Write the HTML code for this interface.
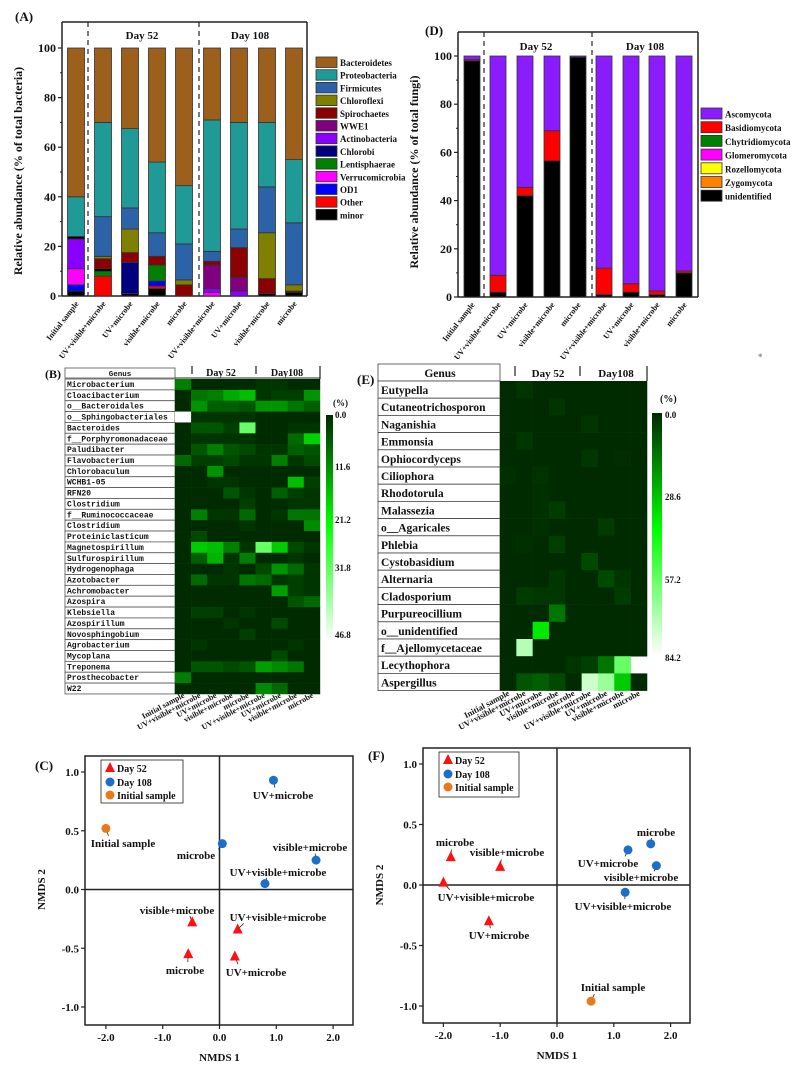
<!DOCTYPE html>
<html><head><meta charset="utf-8">
<style>
html,body{margin:0;padding:0;background:#fff;}
svg{display:block;font-family:"Liberation Serif",serif;font-weight:bold;}
</style></head>
<body>
<svg id="s" width="799" height="1067" viewBox="0 0 799 1067" xmlns="http://www.w3.org/2000/svg">
<defs>
<linearGradient id="cb" x1="0" y1="0" x2="0" y2="1">
<stop offset="0" stop-color="#002a00"/><stop offset="0.48" stop-color="#00ff00"/><stop offset="1" stop-color="#ffffff"/>
</linearGradient>
</defs>
</svg>
<script>
const S=document.getElementById('s');let h='';
function T(x,y,t,o){o=o||{};h+=`<text x="${x}" y="${y}" font-size="${o.fs||10}" text-anchor="${o.a||'start'}" ${o.ff?`font-family="${o.ff}"`:''} ${o.tr?`transform="${o.tr}"`:''} fill="${o.c||'#111'}">${t}</text>`;}
function R(x,y,w,hh,f,st){h+=`<rect x="${x}" y="${y}" width="${w}" height="${hh}" fill="${f}" ${st?`stroke="${st}" stroke-width="0.8"`:''}/>`;}
function L(x1,y1,x2,y2,w,d){h+=`<line x1="${x1}" y1="${y1}" x2="${x2}" y2="${y2}" stroke="#222" stroke-width="${w||1}" ${d?`stroke-dasharray="${d}"`:''}/>`;}
const labs=["Initial sample","UV+visible+microbe","UV+microbe","visible+microbe","microbe","UV+visible+microbe","UV+microbe","visible+microbe","microbe"];
// ---------- Panel A ----------
const CA={Bac:"#9c5f1c",Pro:"#1f9a96",Fir:"#2c62a8",Chl:"#808000",Spi:"#8b0000",WWE:"#800080",Act:"#8a00ff",Chb:"#00007f",Len:"#008000",Ver:"#ff00ff",OD1:"#0000ff",Oth:"#ff0000",min:"#000"};
const A=[
[["min",2],["OD1",2.5],["Ver",6.5],["Act",12],["min",1],["Pro",16],["Bac",60]],
[["Oth",8],["Len",2],["min",1],["Spi",4],["Chl",1],["Fir",16],["Pro",38],["Bac",30]],
[["min",1],["Chb",12.5],["Spi",4],["Chl",9.5],["Fir",8.5],["Pro",32],["Bac",32.5]],
[["min",3],["Oth",1],["OD1",2],["Len",6.5],["Spi",3.5],["Fir",9.5],["Pro",28.5],["Bac",46]],
[["Spi",4.5],["Chl",2],["Fir",14.5],["Pro",23.5],["Bac",55.5]],
[["Ver",1.5],["Act",1.5],["WWE",9.5],["Spi",1.5],["Fir",4],["Pro",53],["Bac",29]],
[["Act",2],["WWE",5.5],["Spi",12],["Fir",7.5],["Pro",43],["Bac",30]],
[["min",1],["Spi",6],["Chl",18.5],["Fir",18.5],["Pro",26],["Bac",30]],
[["min",1.5],["Spi",0.5],["Chl",2.5],["Fir",25],["Pro",25.5],["Bac",45]]];
function barPanel(x0,x1,top,y0,k,centers,bw,data,cols,dash,days,ylab,dayY){
 L(x0,top,x1,top,1.5);L(x1,top,x1,y0,1.5);L(x0,top,x0,y0,1.5);L(x0,y0,x1,y0,1.5);
 for(let v=0;v<=100;v+=20){const y=y0-v*k;L(x0-4,y,x0,y,1.2);T(x0-6,y+4,v,{a:'end',fs:12});}
 for(let v=10;v<100;v+=20){const y=y0-v*k;L(x0-2,y,x0,y,1);}
 dash.forEach(d=>L(d,top,d,y0,1.2,"5,4"));
 T(days[0],dayY,"Day 52",{a:'middle',fs:11});T(days[1],dayY,"Day 108",{a:'middle',fs:11});
 data.forEach((b,i)=>{let acc=0;const cx=centers[i];b.forEach(([c,v])=>{const yb=y0-acc*k,yt=y0-(acc+v)*k;R(cx-bw/2,yt,bw,yb-yt,cols[c],"#333");acc+=v;});
  T(cx+3,y0+8,labs[i],{a:'end',fs:8,tr:`rotate(-52 ${cx+3} ${y0+8})`});});
 T(0,0,ylab,{a:'middle',fs:12,tr:`translate(${x0-40},${y0-125}) rotate(-90)`});
}
barPanel(62,307,22,296,2.48,[76,103,130,157,184,212,239,267,294],17,A,CA,[88,199],[142,250],"Relative abundance  (% of total bacteria)",39);
T(15,21,"(A)",{fs:13});
const la=[["Bac","Bacteroidetes"],["Pro","Proteobacteria"],["Fir","Firmicutes"],["Chl","Chloroflexi"],["Spi","Spirochaetes"],["WWE","WWE1"],["Act","Actinobacteria"],["Chb","Chlorobi"],["Len","Lentisphaerae"],["Ver","Verrucomicrobia"],["OD1","OD1"],["Oth","Other"],["min","minor"]];
la.forEach(([c,t],i)=>{const y=57+i*12.7;R(316,y,21,10.5,CA[c],"#333");T(340,y+9,t,{fs:9});});
// ---------- Panel D ----------
const CD={Asc:"#8a1cff",Bas:"#ff0000",Chy:"#008000",Glo:"#ff00ff",Roz:"#ffff00",Zyg:"#ff8000",Uni:"#000"};
const D=[[["Uni",98],["Bas",0.5],["Asc",1.5]],[["Uni",2],["Bas",7],["Asc",91]],[["Uni",42],["Bas",3.5],["Asc",54.5]],[["Uni",56.5],["Bas",12.5],["Asc",31]],[["Uni",99.5],["Asc",0.5]],[["Uni",1],["Bas",11],["Asc",88]],[["Uni",2],["Bas",3.5],["Asc",94.5]],[["Uni",1],["Bas",1.5],["Asc",97.5]],[["Uni",10],["Bas",0.8],["Asc",89.2]]];
barPanel(458,698,32,297,2.41,[472,498,525,552,578,604,631,657,684],16,D,CD,[484,592],[536,645],"Relative abundance  (% of total fungi)",50);
T(425,35,"(D)",{fs:13});
[["Asc","Ascomycota"],["Bas","Basidiomycota"],["Chy","Chytridiomycota"],["Glo","Glomeromycota"],["Roz","Rozellomycota"],["Zyg","Zygomycota"],["Uni","unidentified"]].forEach(([c,t],i)=>{const y=108+i*13.7;R(701,y,21,11,CD[c],"#333");T(725,y+9.5,t,{fs:9});});
// ---------- heatmap color ----------
function hc(v){if(v<=1){const g=Math.round(42+v*213);return `rgb(0,${g},0)`;}const w=Math.round((v-1)*255);return `rgb(${w},255,${w})`;}
// ---------- Panel B ----------
const gB=["Microbacterium","Cloacibacterium","o__Bacteroidales","o__Sphingobacteriales","Bacteroides","f__Porphyromonadaceae","Paludibacter","Flavobacterium","Chlorobaculum","WCHB1-05","RFN20","Clostridium","f__Ruminococcaceae","Clostridium","Proteiniclasticum","Magnetospirillum","Sulfurospirillum","Hydrogenophaga","Azotobacter","Achromobacter","Azospira","Klebsiella","Azospirillum","Novosphingobium","Agrobacterium","Mycoplana","Treponema","Prosthecobacter","W22"];
const vB=[[.4,0,0,0,0,.05,.05,0,0],[0,.35,.4,.6,.7,.05,.1,.1,.5],[0,.5,.25,.25,.2,.5,.5,.35,.25],[2,.05,.05,.05,.05,0,0,0,0],[0,.2,.2,.1,1.4,0,0,.05,.05],[0,.05,.05,.05,.05,0,0,.3,.8],[0,.2,.4,.2,.15,.05,.05,.25,.2],[.3,.1,.1,.15,.05,.05,.4,.05,.15],[0,0,.5,0,0,0,0,0,0],[0,0,.05,.05,0,0,0,.7,.1],[0,0,0,.2,.05,0,.25,.1,.05],[0,0,0,0,.1,0,0,.05,.05],[0,.4,.05,.05,.3,0,.05,.35,.35],[0,0,0,0,.05,0,0,0,.45],[0,.15,0,0,0,0,0,0,0],[0,.75,.7,.4,.05,1.4,.75,.15,.05],[0,.25,.65,.05,.4,0,0,.05,0],[0,0,0,.05,0,.15,.5,.3,.05],[0,.3,.05,.05,.35,.3,.05,.1,.05],[0,0,0,0,0,0,.55,.1,.05],[0,0,0,0,0,0,0,.2,.3],[0,.1,.1,0,.05,0,0,0,0],[0,0,0,.05,0,0,.15,0,0],[0,0,0,0,.1,0,0,0,0],[0,.05,0,0,0,0,0,.05,0],[0,0,0,0,0,0,.15,0,0],[0,.2,.2,.15,.2,.55,.45,.35,0],[.4,0,0,0,0,0,0,0,0],[0,0,0,0,0,.45,.3,0,0]];
{const x0=175,cw=16.1,y0=379,rh=10.86;
 R(65,368,110,10,"#fff","#555");T(120,376,"Genus",{a:'middle',fs:7.5,ff:'Liberation Mono'});
 gB.forEach((g,i)=>{const y=y0+i*rh;R(65,y,110,rh,"#fff","#555");T(67,y+8,g,{fs:8,ff:'Liberation Mono'});
  vB[i].forEach((v,j)=>R(x0+j*cw,y,cw+0.3,rh+0.3,v>=2?'#fff':hc(v)));});
 L(192,366,192,374,1.2);L(256,366,256,374,1.2);L(320,366,320,379,1.2);L(175,378,320,378,1);
 T(221,376,"Day 52",{a:'middle',fs:10});T(287,376,"Day108",{a:'middle',fs:10});
 R(326,415,7,227,"url(#cb)");
 [["0.0",418],["11.6",470],["21.2",523],["31.8",571],["46.8",638]].forEach(([t,y])=>T(335,y,t,{fs:9}));
 T(333,406,"(%)",{fs:9});
 labs.forEach((l,j)=>{const x=x0+j*cw+10,y=697;T(x,y,l,{a:'end',fs:8,tr:`rotate(-28 ${x} ${y})`});});
 T(45,378,"(B)",{fs:12});}
// ---------- Panel E ----------
const gE=["Eutypella","Cutaneotrichosporon","Naganishia","Emmonsia","Ophiocordyceps","Ciliophora","Rhodotorula","Malassezia","o__Agaricales","Phlebia","Cystobasidium","Alternaria","Cladosporium","Purpureocillium","o__unidentified","f__Ajellomycetaceae","Lecythophora","Aspergillus"];
const vE=[[0,.05,0,0,0,0,0,0,0],[0,0,0,.05,0,0,0,0,0],[0,0,0,0,0,.05,0,0,0],[0,.06,0,0,0,0,0,0,0],[0,0,0,0,0,.06,0,.02,0],[.03,0,.04,0,0,0,0,0,0],[0,0,.03,0,0,0,0,0,0],[0,0,.03,.08,0,0,0,0,0],[0,0,.03,0,0,0,.08,0,0],[0,.03,0,.1,0,0,0,0,0],[0,0,0,0,0,.15,0,0,0],[0,0,0,.06,0,0,.15,.05,0],[0,.08,.06,.06,0,0,0,.08,0],[0,0,0,.35,0,0,0,0,0],[0,0,.9,0,0,0,0,0,0],[0,1.7,0,0,0,0,0,0,0],[0,0,0,0,.05,.1,.35,1.4,2],[0,.2,.25,.15,0,1.8,1.6,.75,0]];
{const x0=500,cw=16.33,y0=381,rh=17.2;
 R(378,364,122,17,"#fff","#444");T(440,377,"Genus",{a:'middle',fs:11.5});
 gE.forEach((g,i)=>{const y=y0+i*rh;R(378,y,122,rh,"#fff","#444");T(381,y+13,g,{fs:11.5});
  vE[i].forEach((v,j)=>{if(v>=2)return;R(x0+j*cw,y,cw+0.3,rh+0.3,hc(v));});});
 L(515,366,515,376,1.2);L(580,366,580,376,1.2);L(647,366,647,381,1.2);
 T(548,377,"Day 52",{a:'middle',fs:11});T(616,377,"Day108",{a:'middle',fs:11});
 R(652,413,10,243,"url(#cb)");
 [["0.0",418],["28.6",500],["57.2",583],["84.2",661]].forEach(([t,y])=>T(665,y,t,{fs:9}));
 T(660,402,"(%)",{fs:10});
 labs.forEach((l,j)=>{const x=x0+j*cw+10,y=695;T(x,y,l,{a:'end',fs:8.5,tr:`rotate(-28 ${x} ${y})`});});
 T(357,384,"(E)",{fs:13});
 T(758,360,"*",{fs:9,c:'#888'});}
// ---------- NMDS ----------
function tri(x,y){h+=`<polygon points="${x},${y-6} ${x-5},${y+4} ${x+5},${y+4}" fill="#ff1010"/>`;}
function dot(x,y,c){h+=`<circle cx="${x}" cy="${y}" r="4.5" fill="${c}"/>`;}
const BL="#1c6fc9",OR="#e87a1c";
function nmds(bx0,bx1,by0,by1,xc,xs,yc,ys,pts,lg,pl){
 R(bx0,by0,bx1-bx0,by1-by0,"none","#222");h=h.replace(/stroke-width="0.8"\/>$/,'stroke-width="1.5"/>');
 L(xc,by0,xc,by1,1.5);L(bx0,yc,bx1,yc,1.5);
 [-2,-1,0,1,2].forEach(v=>{const x=xc+v*xs;L(x,by1,x,by1+4,1.2);T(x,by1+16,v.toFixed(1),{a:'middle',fs:11});});
 [-1,-0.5,0,0.5,1].forEach(v=>{const y=yc-v*ys;L(bx0-4,y,bx0,y,1.2);T(bx0-6,y+4,v.toFixed(1),{a:'end',fs:11});});
 T(xc,by1+36,"NMDS 1",{a:'middle',fs:11});
 T(0,0,"NMDS 2",{a:'middle',fs:11,tr:`translate(${bx0-40},${yc}) rotate(-90)`});
 R(lg[0],lg[1],lg[2],lg[3],"#fff","#222");
 tri(lg[0]+9,lg[1]+8);T(lg[0]+16,lg[1]+12,"Day 52",{fs:10});
 dot(lg[0]+9,lg[1]+22,BL);T(lg[0]+16,lg[1]+26,"Day 108",{fs:10});
 dot(lg[0]+9,lg[1]+35,OR);T(lg[0]+16,lg[1]+39,"Initial sample",{fs:10});
 pts.forEach(([t,px,py,l,lx,ly])=>{const x=xc+px*xs,y=yc-py*ys;L(x,y,x+(lx-x)*0.15,y+(ly-4-y)*0.5,0.8);
  if(t=='r')tri(x,y);else dot(x,y,t=='b'?BL:OR);T(lx,ly,l,{a:'middle',fs:11});});
 T(pl[0],pl[1],pl[2],{fs:13});
}
nmds(85,353,756,1025,219.5,56.8,889.5,117.5,[
['o',-2.0,0.52,"Initial sample",123,847],['b',0.05,0.39,"microbe",196,859],['b',0.95,0.93,"UV+microbe",283,799],['b',1.7,0.25,"visible+microbe",310,851],['b',0.8,0.05,"UV+visible+microbe",278,876],
['r',-0.48,-0.28,"visible+microbe",177,914],['r',-0.55,-0.55,"microbe",185,974],['r',0.32,-0.34,"UV+visible+microbe",278,921],['r',0.27,-0.57,"UV+microbe",256,976]],
[101,760,82,43],[35,770,"(C)"]);
nmds(423,690,748,1023,557,56.8,885,121,[
['r',-1.87,0.23,"microbe",455,846],['r',-1.0,0.15,"visible+microbe",507,856],['r',-2.0,0.02,"UV+visible+microbe",486,901],['r',-1.2,-0.3,"UV+microbe",499,939],
['b',1.25,0.29,"UV+microbe",608,867],['b',1.65,0.34,"microbe",656,836],['b',1.75,0.16,"visible+microbe",641,881],['b',1.2,-0.06,"UV+visible+microbe",623,910],['o',0.6,-0.96,"Initial sample",613,991]],
[439,752,80,45],[368,760,"(F)"]);
S.insertAdjacentHTML('beforeend',h);
</script>
</body></html>
